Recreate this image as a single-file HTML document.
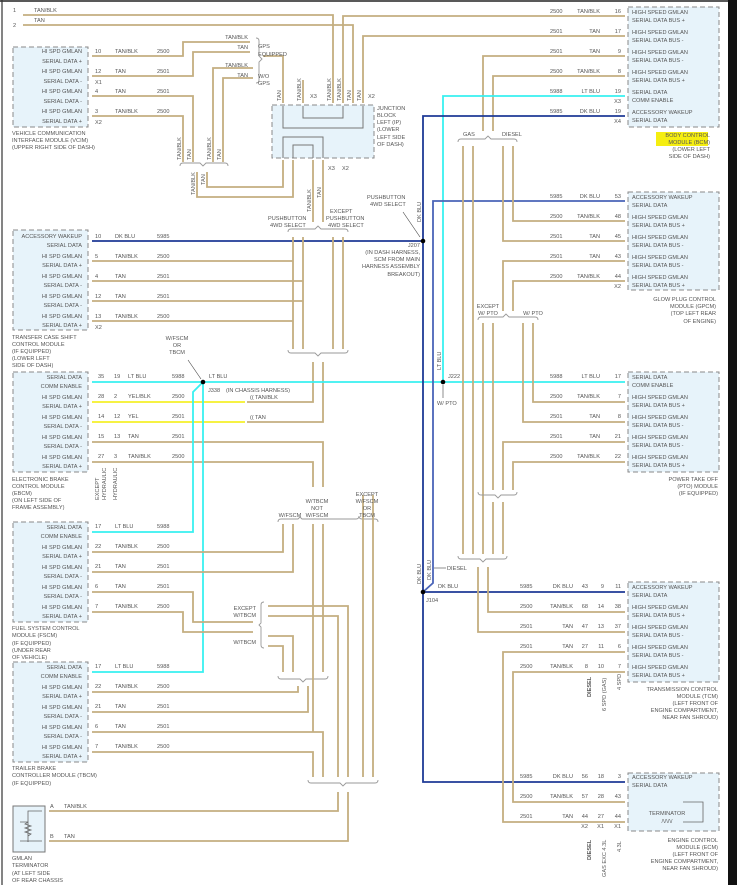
<!DOCTYPE html>
<html><head><meta charset="utf-8"><style>
html,body{margin:0;padding:0;background:#fff;}
svg{display:block;}
text{font-family:"Liberation Sans",sans-serif;font-size:5.6px;fill:#555;}
.w{fill:none;stroke:#c4ae80;stroke-width:1.8;}
.y{fill:none;stroke:#f4f02a;stroke-width:1.8;}
.c{fill:none;stroke:#38f0f0;stroke-width:1.8;}
.b{fill:none;stroke:#1e3a96;stroke-width:1.8;}
.b2{fill:none;stroke:#4a64b8;stroke-width:1.8;}
.box{fill:#e7f3fa;stroke:#8a8a8a;stroke-width:1;stroke-dasharray:5,3;}
.br{fill:none;stroke:#999;stroke-width:0.9;}
.e{text-anchor:end;}
.m{text-anchor:middle;}
.hl{fill:#f5ee10;}
</style></head><body>
<svg width="737" height="885" viewBox="0 0 737 885" xmlns="http://www.w3.org/2000/svg">
<rect x="0" y="0" width="737" height="885" fill="#fff"/>
<line x1="0" y1="1" x2="728" y2="1" stroke="#222" stroke-width="1.5"/>
<line x1="2" y1="0" x2="2" y2="885" stroke="#333" stroke-width="1.2"/>
<rect x="728" y="0" width="9" height="885" fill="#111"/>

<rect class="box" x="13" y="47" width="75" height="80"/>
<rect class="box" x="272" y="105" width="102" height="53"/>
<rect class="box" x="13" y="230" width="75" height="100"/>
<rect class="box" x="13" y="372" width="75" height="100"/>
<rect class="box" x="13" y="522" width="75" height="100"/>
<rect class="box" x="13" y="662" width="75" height="100"/>
<rect x="13" y="806" width="32" height="46" fill="#e7f3fa" stroke="#777" stroke-width="1"/>
<rect class="box" x="628" y="7" width="91" height="120"/>
<rect class="box" x="628" y="192" width="91" height="98"/>
<rect class="box" x="628" y="372" width="91" height="100"/>
<rect class="box" x="628" y="582" width="91" height="100"/>
<rect class="box" x="628" y="773" width="91" height="58"/>

<path d="M283 106 V128 H363 V106 M303 106 V118 H343 V106" fill="none" stroke="#777" stroke-width="1"/>
<path d="M283 158 V137 H323 V158 M293 158 V145 H313 V158" fill="none" stroke="#777" stroke-width="1"/>

<path class="w" d="M23 15 H333 V103"/>
<path class="w" d="M23 25 H353 V103"/>
<path class="w" d="M343 103 V16 H625"/>
<path class="w" d="M363 103 V36 H625"/>
<path class="w" d="M92 56 H183 V42 H250"/>
<path class="w" d="M92 76 H193 V52 H250"/>
<path class="w" d="M92 96 H193 V162"/>
<path class="w" d="M92 116 H183 V162"/>
<path class="w" d="M253 68 H213 V162"/>
<path class="w" d="M253 78 H223 V162"/>
<path class="w" d="M263 56 H283 V103"/>
<path class="w" d="M303 103 V80"/>
<path class="br" d="M180 166 q0 -3 3 -3 H200 l3 3 l3 -3 H225 q3 0 3 3"/>
<path class="br" d="M256 38 q3 0 3 3 V56 l3 3 l-3 3 V80 q0 3 -3 3"/>
<path class="w" d="M207 172 V187 H283 V160"/>
<path class="w" d="M197 172 V197 H293 V160"/>
<path class="w" d="M313 160 V222"/>
<path class="w" d="M323 160 V222"/>
<path class="br" d="M288 232 q0 -3 3 -3 H315 l3 -3 l3 3 H345 q3 0 3 3"/>

<path class="b" d="M92 241 H423"/>
<path class="w" d="M92 261 H293"/>
<path class="w" d="M92 281 H303"/>
<path class="w" d="M92 301 H303"/>
<path class="w" d="M92 321 H293"/>
<path class="w" d="M293 237 V349 M303 237 V349 M333 237 V349 M343 237 V349"/>
<path class="br" d="M288 350 q0 3 3 3 H315 l3 3 l3 -3 H345 q3 0 3 -3"/>
<path class="w" d="M313 362 V402 H247"/>
<path class="w" d="M323 362 V422 H247"/>
<text x="250" y="399">((</text><text x="250" y="419">((</text>

<path class="c" d="M92 382 H625"/>
<path class="y" d="M92 402 H245"/>
<path class="y" d="M92 422 H245"/>
<path class="w" d="M92 442 H323 V487"/>
<path class="w" d="M92 462 H313 V487"/>
<path class="c" d="M203 382 V672 H92"/>
<path class="c" d="M203 382 L193 392 V532 H92"/>
<circle cx="203" cy="382" r="2.3" fill="#000"/>
<line x1="188" y1="360" x2="201" y2="379" stroke="#444" stroke-width="0.6"/>

<path class="br" d="M278 522 q0 -3 3 -3 H298 l2 -2 l2 2 H356 q3 0 3 -3 q0 3 3 3 H375 q3 0 3 3"/>
<path class="w" d="M92 552 H283 V524"/>
<path class="w" d="M92 572 H293 V524"/>
<path class="w" d="M92 592 H193 V622 H253"/>
<path class="w" d="M92 612 H183 V632 H253"/>
<path class="w" d="M313 524 V672 M323 524 V672"/>
<path class="w" d="M363 495 V777 M373 495 V777"/>
<path class="br" d="M264 602 q-3 0 -3 3 V623 l-2 2 l2 2 V645 q0 3 3 3"/>
<path class="w" d="M268 606 H348 V777"/>
<path class="w" d="M268 616 H338 V777"/>
<path class="w" d="M268 636 H293 V672"/>
<path class="w" d="M268 646 H283 V672"/>
<path class="br" d="M278 676 q0 3 3 3 H300 l3 3 l3 -3 H325 q3 0 3 -3"/>
<path class="w" d="M298 686 V692 H92"/>
<path class="w" d="M308 686 V712 H92"/>
<path class="w" d="M92 732 H323 V777"/>
<path class="w" d="M92 752 H313 V777"/>
<path class="w" d="M313 672 V732"/>
<path class="br" d="M308 780 q0 3 3 3 H340 l3 3 l3 -3 H375 q3 0 3 -3"/>
<path class="w" d="M338 792 V811 H49"/>
<path class="w" d="M348 792 V841 H49"/>
<path d="M20 822 H28 M28 816 V842 M20 841 H28" fill="none" stroke="#666" stroke-width="0.8"/>
<path d="M28 822 l-3 2 l6 2 l-6 2 l6 2 l-6 2 l6 2 l-3 2" fill="none" stroke="#666" stroke-width="0.8"/>
<path d="M28 816 V811 H42 M28 842 V841 H42" fill="none" stroke="#666" stroke-width="0.8"/>

<path class="w" d="M625 56 H483 V131"/>
<path class="w" d="M625 76 H493 V131"/>
<path class="br" d="M458 142 q0 -3 3 -3 H485 l3 -3 l3 3 H514 q3 0 3 3"/>
<path class="c" d="M625 96 H443 V382"/>
<path class="b" d="M625 116 H423 V782 H625"/>
<path class="b2" d="M625 201 H433 V583 L423 592"/>
<path class="b" d="M423 592 H625"/>
<circle cx="423" cy="241" r="2.3" fill="#000"/>
<circle cx="443" cy="382" r="2.3" fill="#000"/>
<circle cx="423" cy="592" r="2.3" fill="#000"/>
<line x1="403" y1="212" x2="420" y2="237" stroke="#444" stroke-width="0.6"/>
<path class="w" d="M463 146 V554 M473 146 V554"/>
<path class="w" d="M503 146 V241 H625"/>
<path class="w" d="M513 146 V221 H625"/>
<path class="w" d="M625 261 H503 V311"/>
<path class="w" d="M625 281 H513 V311"/>
<path class="br" d="M478 320 q0 -3 3 -3 H503 l3 -3 l3 3 H535 q3 0 3 3"/>
<path class="w" d="M483 323 V554 M493 323 V490"/>
<path class="w" d="M533 323 V402 H625"/>
<path class="w" d="M523 323 V422 H625"/>
<path class="w" d="M625 442 H503 V490"/>
<path class="w" d="M625 462 H513 V490"/>
<path class="br" d="M478 492 q0 3 3 3 H495 l3 3 l3 -3 H514 q3 0 3 -3"/>
<path class="w" d="M493 502 V554 M503 502 V554"/>
<path class="br" d="M458 556 q0 3 3 3 H480 l3 3 l3 -3 H504 q3 0 3 -3"/>
<path class="w" d="M478 567 V632 H625"/>
<path class="w" d="M488 567 V612 H625"/>
<path class="w" d="M625 652 H503 V822 H625"/>
<path class="w" d="M625 672 H513 V802 H625"/>
<path d="M683 802 H703 V822 H683" fill="none" stroke="#666" stroke-width="0.8"/>

<g>
<text x="13" y="12">1</text><text x="34" y="12">TAN/BLK</text>
<text x="13" y="27">2</text><text x="34" y="22">TAN</text>
<text x="82" y="53" class="e">HI SPD GMLAN</text><text x="82" y="63" class="e">SERIAL DATA +</text>
<text x="82" y="73" class="e">HI SPD GMLAN</text><text x="82" y="83" class="e">SERIAL DATA -</text>
<text x="82" y="93" class="e">HI SPD GMLAN</text><text x="82" y="103" class="e">SERIAL DATA -</text>
<text x="82" y="113" class="e">HI SPD GMLAN</text><text x="82" y="123" class="e">SERIAL DATA +</text>
<text x="95" y="53">10</text><text x="115" y="53">TAN/BLK</text><text x="157" y="53">2500</text>
<text x="95" y="73">12</text><text x="115" y="73">TAN</text><text x="157" y="73">2501</text><text x="95" y="84">X1</text>
<text x="95" y="93">4</text><text x="115" y="93">TAN</text><text x="157" y="93">2501</text>
<text x="95" y="113">3</text><text x="115" y="113">TAN/BLK</text><text x="157" y="113">2500</text><text x="95" y="124">X2</text>
<text x="12" y="135">VEHICLE COMMUNICATION</text><text x="12" y="142">INTERFACE MODULE (VCIM)</text><text x="12" y="149">(UPPER RIGHT SIDE OF DASH)</text>
<text x="248" y="39" class="e">TAN/BLK</text><text x="248" y="49" class="e">TAN</text>
<text x="258" y="48">GPS</text><text x="258" y="56">EQUIPPED</text>
<text x="248" y="67" class="e">TAN/BLK</text><text x="248" y="77" class="e">TAN</text>
<text x="258" y="78">W/O</text><text x="258" y="85">GPS</text>
<text x="377" y="110">JUNCTION</text><text x="377" y="117">BLOCK</text><text x="377" y="124">LEFT (IP)</text><text x="377" y="131">(LOWER</text><text x="377" y="139">LEFT SIDE</text><text x="377" y="146">OF DASH)</text>
<text x="310" y="98">X3</text><text x="368" y="98">X2</text><text x="328" y="170">X3</text><text x="342" y="170">X2</text>
<text x="268" y="220">PUSHBUTTON</text><text x="270" y="227">4WD SELECT</text>
<text x="330" y="213">EXCEPT</text><text x="326" y="220">PUSHBUTTON</text><text x="328" y="227">4WD SELECT</text>
<text x="367" y="199">PUSHBUTTON</text><text x="370" y="206">4WD SELECT</text>
<text x="82" y="238" class="e">ACCESSORY WAKEUP</text><text x="82" y="247" class="e">SERIAL DATA</text>
<text x="82" y="258" class="e">HI SPD GMLAN</text><text x="82" y="267" class="e">SERIAL DATA +</text>
<text x="82" y="278" class="e">HI SPD GMLAN</text><text x="82" y="287" class="e">SERIAL DATA -</text>
<text x="82" y="298" class="e">HI SPD GMLAN</text><text x="82" y="307" class="e">SERIAL DATA -</text>
<text x="82" y="318" class="e">HI SPD GMLAN</text><text x="82" y="327" class="e">SERIAL DATA +</text>
<text x="95" y="238">10</text><text x="115" y="238">DK BLU</text><text x="157" y="238">5985</text>
<text x="95" y="258">5</text><text x="115" y="258">TAN/BLK</text><text x="157" y="258">2500</text>
<text x="95" y="278">4</text><text x="115" y="278">TAN</text><text x="157" y="278">2501</text>
<text x="95" y="298">12</text><text x="115" y="298">TAN</text><text x="157" y="298">2501</text>
<text x="95" y="318">13</text><text x="115" y="318">TAN/BLK</text><text x="157" y="318">2500</text><text x="95" y="329">X2</text>
<text x="12" y="339">TRANSFER CASE SHIFT</text><text x="12" y="346">CONTROL MODULE</text><text x="12" y="353">(IF EQUIPPED)</text><text x="12" y="360">(LOWER LEFT</text><text x="12" y="367">SIDE OF DASH)</text>
<text x="420" y="247" class="e">J207</text><text x="420" y="254" class="e">(IN DASH HARNESS,</text><text x="420" y="261" class="e">SCM FROM MAIN</text><text x="420" y="268" class="e">HARNESS ASSEMBLY</text><text x="420" y="276" class="e">BREAKOUT)</text>
<text x="177" y="340" class="m">W/FSCM</text><text x="177" y="347" class="m">OR</text><text x="177" y="354" class="m">TBCM</text>
<text x="82" y="379" class="e">SERIAL DATA</text><text x="82" y="388" class="e">COMM ENABLE</text>
<text x="82" y="399" class="e">HI SPD GMLAN</text><text x="82" y="408" class="e">SERIAL DATA +</text>
<text x="82" y="419" class="e">HI SPD GMLAN</text><text x="82" y="428" class="e">SERIAL DATA -</text>
<text x="82" y="439" class="e">HI SPD GMLAN</text><text x="82" y="448" class="e">SERIAL DATA -</text>
<text x="82" y="459" class="e">HI SPD GMLAN</text><text x="82" y="468" class="e">SERIAL DATA +</text>
<text x="98" y="378">35</text><text x="114" y="378">19</text><text x="128" y="378">LT BLU</text><text x="172" y="378">5988</text>
<text x="98" y="398">28</text><text x="114" y="398">2</text><text x="128" y="398">YEL/BLK</text><text x="172" y="398">2500</text>
<text x="98" y="418">14</text><text x="114" y="418">12</text><text x="128" y="418">YEL</text><text x="172" y="418">2501</text>
<text x="98" y="438">15</text><text x="114" y="438">13</text><text x="128" y="438">TAN</text><text x="172" y="438">2501</text>
<text x="98" y="458">27</text><text x="114" y="458">3</text><text x="128" y="458">TAN/BLK</text><text x="172" y="458">2500</text>
<text x="209" y="378">LT BLU</text><text x="208" y="392">J338</text><text x="226" y="392">(IN CHASSIS HARNESS)</text>
<text x="255" y="399">TAN/BLK</text><text x="255" y="419">TAN</text>
<text x="12" y="481">ELECTRONIC BRAKE</text><text x="12" y="488">CONTROL MODULE</text><text x="12" y="495">(EBCM)</text><text x="12" y="502">(ON LEFT SIDE OF</text><text x="12" y="509">FRAME ASSEMBLY)</text>
<text transform="translate(99,500) rotate(-90)">EXCEPT</text><text transform="translate(106,500) rotate(-90)">HYDRAULIC</text><text transform="translate(117,500) rotate(-90)">HYDRAULIC</text>
<text x="290" y="517" class="m">W/FSCM</text><text x="317" y="503" class="m">W/TBCM</text><text x="317" y="510" class="m">NOT</text><text x="317" y="517" class="m">W/FSCM</text>
<text x="367" y="496" class="m">EXCEPT</text><text x="367" y="503" class="m">W/FSCM</text><text x="367" y="510" class="m">OR</text><text x="367" y="517" class="m">TBCM</text>
<text x="82" y="529" class="e">SERIAL DATA</text><text x="82" y="538" class="e">COMM ENABLE</text>
<text x="82" y="549" class="e">HI SPD GMLAN</text><text x="82" y="558" class="e">SERIAL DATA +</text>
<text x="82" y="569" class="e">HI SPD GMLAN</text><text x="82" y="578" class="e">SERIAL DATA -</text>
<text x="82" y="589" class="e">HI SPD GMLAN</text><text x="82" y="598" class="e">SERIAL DATA -</text>
<text x="82" y="609" class="e">HI SPD GMLAN</text><text x="82" y="618" class="e">SERIAL DATA +</text>
<text x="95" y="528">17</text><text x="115" y="528">LT BLU</text><text x="157" y="528">5988</text>
<text x="95" y="548">22</text><text x="115" y="548">TAN/BLK</text><text x="157" y="548">2500</text>
<text x="95" y="568">21</text><text x="115" y="568">TAN</text><text x="157" y="568">2501</text>
<text x="95" y="588">6</text><text x="115" y="588">TAN</text><text x="157" y="588">2501</text>
<text x="95" y="608">7</text><text x="115" y="608">TAN/BLK</text><text x="157" y="608">2500</text>
<text x="12" y="630">FUEL SYSTEM CONTROL</text><text x="12" y="637">MODULE (FSCM)</text><text x="12" y="645">(IF EQUIPPED)</text><text x="12" y="652">(UNDER REAR</text><text x="12" y="659">OF VEHICLE)</text>
<text x="256" y="610" class="e">EXCEPT</text><text x="256" y="617" class="e">W/TBCM</text><text x="256" y="644" class="e">W/TBCM</text>
<text x="82" y="669" class="e">SERIAL DATA</text><text x="82" y="678" class="e">COMM ENABLE</text>
<text x="82" y="689" class="e">HI SPD GMLAN</text><text x="82" y="698" class="e">SERIAL DATA +</text>
<text x="82" y="709" class="e">HI SPD GMLAN</text><text x="82" y="718" class="e">SERIAL DATA -</text>
<text x="82" y="729" class="e">HI SPD GMLAN</text><text x="82" y="738" class="e">SERIAL DATA -</text>
<text x="82" y="749" class="e">HI SPD GMLAN</text><text x="82" y="758" class="e">SERIAL DATA +</text>
<text x="95" y="668">17</text><text x="115" y="668">LT BLU</text><text x="157" y="668">5988</text>
<text x="95" y="688">22</text><text x="115" y="688">TAN/BLK</text><text x="157" y="688">2500</text>
<text x="95" y="708">21</text><text x="115" y="708">TAN</text><text x="157" y="708">2501</text>
<text x="95" y="728">6</text><text x="115" y="728">TAN</text><text x="157" y="728">2501</text>
<text x="95" y="748">7</text><text x="115" y="748">TAN/BLK</text><text x="157" y="748">2500</text>
<text x="12" y="770">TRAILER BRAKE</text><text x="12" y="777">CONTROLLER MODULE (TBCM)</text><text x="12" y="785">(IF EQUIPPED)</text>
<text x="50" y="808">A</text><text x="64" y="808">TAN/BLK</text><text x="50" y="838">B</text><text x="64" y="838">TAN</text>
<text x="12" y="860">GMLAN</text><text x="12" y="867">TERMINATOR</text><text x="12" y="875">(AT LEFT SIDE</text><text x="12" y="882">OF REAR CHASSIS</text>
</g>
<g>
<text transform="translate(281,101) rotate(-90)">TAN</text>
<text transform="translate(301,101) rotate(-90)">TAN/BLK</text>
<text transform="translate(331,101) rotate(-90)">TAN/BLK</text>
<text transform="translate(341,101) rotate(-90)">TAN/BLK</text>
<text transform="translate(351,101) rotate(-90)">TAN</text>
<text transform="translate(361,101) rotate(-90)">TAN</text>
<text transform="translate(181,160) rotate(-90)">TAN/BLK</text>
<text transform="translate(191,160) rotate(-90)">TAN</text>
<text transform="translate(211,160) rotate(-90)">TAN/BLK</text>
<text transform="translate(221,160) rotate(-90)">TAN</text>
<text transform="translate(195,195) rotate(-90)">TAN/BLK</text>
<text transform="translate(205,185) rotate(-90)">TAN</text>
<text transform="translate(311,212) rotate(-90)">TAN/BLK</text>
<text transform="translate(321,198) rotate(-90)">TAN</text>
<text transform="translate(421,222) rotate(-90)">DK BLU</text>
<text transform="translate(441,370) rotate(-90)">LT BLU</text>
<text transform="translate(421,584) rotate(-90)">DK BLU</text>
<text transform="translate(431,580) rotate(-90)">DK BLU</text>
<text transform="translate(591,697) rotate(-90)" style="font-weight:bold">DIESEL</text>
<text transform="translate(606,711) rotate(-90)">6 SPD (GAS)</text>
<text transform="translate(621,690) rotate(-90)">4 SPD</text>
<text transform="translate(591,860) rotate(-90)" style="font-weight:bold">DIESEL</text>
<text transform="translate(606,877) rotate(-90)">GAS EXC 4.3L</text>
<text transform="translate(621,852) rotate(-90)">4.3L</text>
</g>
<g>
<text x="550" y="13">2500</text><text x="600" y="13" class="e">TAN/BLK</text><text x="621" y="13" class="e">16</text>
<text x="550" y="33">2501</text><text x="600" y="33" class="e">TAN</text><text x="621" y="33" class="e">17</text>
<text x="550" y="53">2501</text><text x="600" y="53" class="e">TAN</text><text x="621" y="53" class="e">9</text>
<text x="550" y="73">2500</text><text x="600" y="73" class="e">TAN/BLK</text><text x="621" y="73" class="e">8</text>
<text x="550" y="93">5988</text><text x="600" y="93" class="e">LT BLU</text><text x="621" y="93" class="e">19</text><text x="621" y="103" class="e">X3</text>
<text x="550" y="113">5985</text><text x="600" y="113" class="e">DK BLU</text><text x="621" y="113" class="e">19</text><text x="621" y="123" class="e">X4</text>
<text x="632" y="14">HIGH SPEED GMLAN</text><text x="632" y="22">SERIAL DATA BUS +</text>
<text x="632" y="34">HIGH SPEED GMLAN</text><text x="632" y="42">SERIAL DATA BUS -</text>
<text x="632" y="54">HIGH SPEED GMLAN</text><text x="632" y="62">SERIAL DATA BUS -</text>
<text x="632" y="74">HIGH SPEED GMLAN</text><text x="632" y="82">SERIAL DATA BUS +</text>
<text x="632" y="94">SERIAL DATA</text><text x="632" y="102">COMM ENABLE</text>
<text x="632" y="114">ACCESSORY WAKEUP</text><text x="632" y="122">SERIAL DATA</text>
<rect x="656" y="132" width="52" height="14" class="hl"/>
<text x="710" y="137" class="e">BODY CONTROL</text><text x="710" y="144" class="e">MODULE (BCM)</text><text x="710" y="151" class="e">(LOWER LEFT</text><text x="710" y="158" class="e">SIDE OF DASH)</text>
<text x="463" y="136">GAS</text><text x="502" y="136">DIESEL</text>
<text x="550" y="198">5985</text><text x="600" y="198" class="e">DK BLU</text><text x="621" y="198" class="e">53</text>
<text x="550" y="218">2500</text><text x="600" y="218" class="e">TAN/BLK</text><text x="621" y="218" class="e">48</text>
<text x="550" y="238">2501</text><text x="600" y="238" class="e">TAN</text><text x="621" y="238" class="e">45</text>
<text x="550" y="258">2501</text><text x="600" y="258" class="e">TAN</text><text x="621" y="258" class="e">43</text>
<text x="550" y="278">2500</text><text x="600" y="278" class="e">TAN/BLK</text><text x="621" y="278" class="e">44</text><text x="621" y="288" class="e">X2</text>
<text x="632" y="199">ACCESSORY WAKEUP</text><text x="632" y="207">SERIAL DATA</text>
<text x="632" y="219">HIGH SPEED GMLAN</text><text x="632" y="227">SERIAL DATA BUS +</text>
<text x="632" y="239">HIGH SPEED GMLAN</text><text x="632" y="247">SERIAL DATA BUS -</text>
<text x="632" y="259">HIGH SPEED GMLAN</text><text x="632" y="267">SERIAL DATA BUS -</text>
<text x="632" y="279">HIGH SPEED GMLAN</text><text x="632" y="287">SERIAL DATA BUS +</text>
<text x="716" y="301" class="e">GLOW PLUG CONTROL</text><text x="716" y="308" class="e">MODULE (GPCM)</text><text x="716" y="315" class="e">(TOP LEFT REAR</text><text x="716" y="323" class="e">OF ENGINE)</text>
<text x="488" y="308" class="m">EXCEPT</text><text x="488" y="315" class="m">W/ PTO</text><text x="533" y="315" class="m">W/ PTO</text>
<text x="448" y="378">J222</text><text x="437" y="405">W/ PTO</text>
<line x1="443" y1="385" x2="443" y2="398" stroke="#444" stroke-width="0.6"/>
<text x="550" y="378">5988</text><text x="600" y="378" class="e">LT BLU</text><text x="621" y="378" class="e">17</text>
<text x="550" y="398">2500</text><text x="600" y="398" class="e">TAN/BLK</text><text x="621" y="398" class="e">7</text>
<text x="550" y="418">2501</text><text x="600" y="418" class="e">TAN</text><text x="621" y="418" class="e">8</text>
<text x="550" y="438">2501</text><text x="600" y="438" class="e">TAN</text><text x="621" y="438" class="e">21</text>
<text x="550" y="458">2500</text><text x="600" y="458" class="e">TAN/BLK</text><text x="621" y="458" class="e">22</text>
<text x="632" y="379">SERIAL DATA</text><text x="632" y="387">COMM ENABLE</text>
<text x="632" y="399">HIGH SPEED GMLAN</text><text x="632" y="407">SERIAL DATA BUS +</text>
<text x="632" y="419">HIGH SPEED GMLAN</text><text x="632" y="427">SERIAL DATA BUS -</text>
<text x="632" y="439">HIGH SPEED GMLAN</text><text x="632" y="447">SERIAL DATA BUS -</text>
<text x="632" y="459">HIGH SPEED GMLAN</text><text x="632" y="467">SERIAL DATA BUS +</text>
<text x="718" y="481" class="e">POWER TAKE OFF</text><text x="718" y="488" class="e">(PTO) MODULE</text><text x="718" y="495" class="e">(IF EQUIPPED)</text>
<text x="447" y="570">DIESEL</text><line x1="434" y1="568" x2="446" y2="568" stroke="#444" stroke-width="0.6"/>
<text x="438" y="588">DK BLU</text><text x="426" y="602">J104</text>
<text x="520" y="588">5985</text><text x="573" y="588" class="e">DK BLU</text><text x="588" y="588" class="e">43</text><text x="604" y="588" class="e">9</text><text x="621" y="588" class="e">11</text>
<text x="520" y="608">2500</text><text x="573" y="608" class="e">TAN/BLK</text><text x="588" y="608" class="e">68</text><text x="604" y="608" class="e">14</text><text x="621" y="608" class="e">38</text>
<text x="520" y="628">2501</text><text x="573" y="628" class="e">TAN</text><text x="588" y="628" class="e">47</text><text x="604" y="628" class="e">13</text><text x="621" y="628" class="e">37</text>
<text x="520" y="648">2501</text><text x="573" y="648" class="e">TAN</text><text x="588" y="648" class="e">27</text><text x="604" y="648" class="e">11</text><text x="621" y="648" class="e">6</text>
<text x="520" y="668">2500</text><text x="573" y="668" class="e">TAN/BLK</text><text x="588" y="668" class="e">8</text><text x="604" y="668" class="e">10</text><text x="621" y="668" class="e">7</text>
<text x="632" y="589">ACCESSORY WAKEUP</text><text x="632" y="597">SERIAL DATA</text>
<text x="632" y="609">HIGH SPEED GMLAN</text><text x="632" y="617">SERIAL DATA BUS +</text>
<text x="632" y="629">HIGH SPEED GMLAN</text><text x="632" y="637">SERIAL DATA BUS -</text>
<text x="632" y="649">HIGH SPEED GMLAN</text><text x="632" y="657">SERIAL DATA BUS -</text>
<text x="632" y="669">HIGH SPEED GMLAN</text><text x="632" y="677">SERIAL DATA BUS +</text>
<text x="718" y="691" class="e">TRANSMISSION CONTROL</text><text x="718" y="698" class="e">MODULE (TCM)</text><text x="718" y="705" class="e">(LEFT FRONT OF</text><text x="718" y="712" class="e">ENGINE COMPARTMENT,</text><text x="718" y="719" class="e">NEAR FAN SHROUD)</text>
<text x="520" y="778">5985</text><text x="573" y="778" class="e">DK BLU</text><text x="588" y="778" class="e">56</text><text x="604" y="778" class="e">18</text><text x="621" y="778" class="e">3</text>
<text x="520" y="798">2500</text><text x="573" y="798" class="e">TAN/BLK</text><text x="588" y="798" class="e">57</text><text x="604" y="798" class="e">28</text><text x="621" y="798" class="e">43</text>
<text x="520" y="818">2501</text><text x="573" y="818" class="e">TAN</text><text x="588" y="818" class="e">44</text><text x="604" y="818" class="e">27</text><text x="621" y="818" class="e">44</text>
<text x="588" y="828" class="e">X2</text><text x="604" y="828" class="e">X1</text><text x="621" y="828" class="e">X1</text>
<text x="632" y="779">ACCESSORY WAKEUP</text><text x="632" y="787">SERIAL DATA</text>
<text x="667" y="815" class="m">TERMINATOR</text><text x="667" y="823" class="m">/\/\/\/</text>
<text x="718" y="842" class="e">ENGINE CONTROL</text><text x="718" y="849" class="e">MODULE (ECM)</text><text x="718" y="856" class="e">(LEFT FRONT OF</text><text x="718" y="863" class="e">ENGINE COMPARTMENT,</text><text x="718" y="870" class="e">NEAR FAN SHROUD)</text>
</g>
</svg>
</body></html>
